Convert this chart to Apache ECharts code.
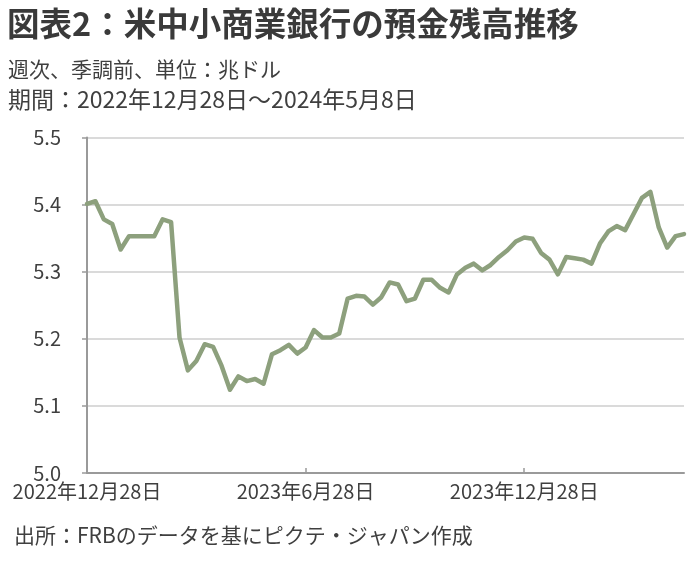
<!DOCTYPE html>
<html>
<head>
<meta charset="utf-8">
<script src="https://cdn.jsdelivr.net/npm/echarts@6/dist/echarts.min.js"></script>
<style>
html,body{margin:0;padding:0;background:#fff;}
#chart{width:694px;height:566px;}
</style>
</head>
<body>
<div id="chart"></div>
<script>
// Weekly deposits of small US commercial banks (trillion USD), 2022-12-28 .. 2024-05-08
const startDate = '2022-12-28';
const weekCount = 72;
const depositValues = [
  5.401,5.405,5.378,5.371,5.333,5.353,5.353,5.353,5.353,5.378,
  5.374,5.202,5.153,5.167,5.192,5.188,5.160,5.124,5.144,5.137,
  5.140,5.133,5.177,5.183,5.191,5.178,5.187,5.213,5.202,5.202,
  5.208,5.260,5.264,5.263,5.251,5.262,5.284,5.281,5.256,5.260,
  5.288,5.288,5.276,5.269,5.296,5.306,5.312,5.302,5.310,5.322,
  5.332,5.345,5.351,5.349,5.328,5.318,5.296,5.322,5.320,5.318,
  5.312,5.342,5.360,5.368,5.362,5.386,5.410,5.419,5.366,5.336,
  5.353,5.356
];
const tickIndexes = [0, 26, 52];
const tickLabels = ['2022年12月28日', '2023年6月28日', '2023年12月28日'];
const yTicks = [5.0, 5.1, 5.2, 5.3, 5.4, 5.5];
const titleText = '図表2：米中小商業銀行の預金残高推移';
const subText1 = '週次、季調前、単位：兆ドル';
const subText2 = '期間：2022年12月28日～2024年5月8日';
const sourceText = '出所：FRBのデータを基にピクテ・ジャパン作成';

// weekly category list (dates)
const categories = [];
{
  const d0 = new Date(startDate + 'T00:00:00Z');
  for (let i = 0; i < weekCount; i++) {
    const d = new Date(d0.getTime() + i * 7 * 86400000);
    categories.push(d.toISOString().slice(0, 10));
  }
}

const FONT = '"Noto Sans CJK JP", "Noto Sans", sans-serif';
const TXT = '#3f3f3f';

const chart = echarts.init(document.getElementById('chart'), null, {renderer: 'canvas'});
chart.setOption({
  animation: false,
  backgroundColor: '#ffffff',
  grid: {left: 87, right: 10, top: 137.5, bottom: 93, containLabel: false},
  graphic: [
    {type: 'text', left: 7, top: 7, style: {text: titleText, font: 'bold 32.5px ' + FONT, fill: '#3a3a3a'}},
    {type: 'text', left: 8, top: 59, style: {text: subText1, font: '21px ' + FONT, fill: TXT}},
    {type: 'text', left: 8, top: 88, style: {text: subText2, font: '23px ' + FONT, fill: TXT}},
    {type: 'text', left: 14, top: 525, style: {text: sourceText, font: '21px ' + FONT, fill: TXT}}
  ],
  xAxis: {
    type: 'category',
    data: categories,
    boundaryGap: false,
    axisLine: {show: true, lineStyle: {color: '#9a9a9a', width: 2}},
    axisTick: {
      show: true, inside: true, length: 5,
      interval: (i) => tickIndexes.indexOf(i) >= 0,
      lineStyle: {color: '#9a9a9a', width: 1.5}
    },
    axisLabel: {
      interval: (i) => tickIndexes.indexOf(i) >= 0,
      formatter: (v, i) => { const k = tickIndexes.indexOf(i); return k >= 0 ? tickLabels[k] : ''; },
      color: TXT, fontSize: 20, fontFamily: FONT, margin: 8
    },
    splitLine: {show: false}
  },
  yAxis: {
    type: 'value',
    min: yTicks[0], max: yTicks[yTicks.length - 1], interval: 0.1,
    axisLine: {show: true, lineStyle: {color: '#9a9a9a', width: 2}},
    axisTick: {show: true, length: 5, lineStyle: {color: '#9a9a9a', width: 1.5}},
    axisLabel: {formatter: (v) => v.toFixed(1), color: TXT, fontSize: 20, fontFamily: FONT, margin: 26},
    splitLine: {show: true, lineStyle: {color: '#dadada', width: 2}}
  },
  series: [{
    type: 'line',
    data: depositValues,
    symbol: 'none',
    smooth: false,
    lineStyle: {color: '#8da07d', width: 4.5, join: 'round', cap: 'round'},
    z: 3
  }]
});
</script>
</body>
</html>
